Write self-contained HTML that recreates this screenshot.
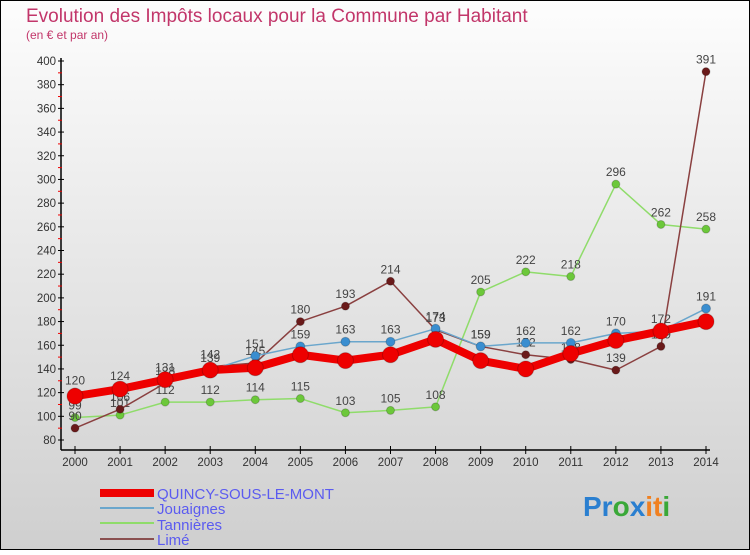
<!DOCTYPE html>
<html><head><meta charset="utf-8"><style>
body{margin:0;width:750px;height:550px;overflow:hidden;font-family:"Liberation Sans",sans-serif}
</style></head><body>
<svg id="chart" width="750" height="550" xmlns="http://www.w3.org/2000/svg">
<defs><linearGradient id="bg" x1="0" y1="0" x2="0" y2="1"><stop offset="0" stop-color="#fdfdfd"/><stop offset="1" stop-color="#cfcfcf"/></linearGradient></defs>
<rect x="0" y="0" width="750" height="550" fill="url(#bg)" stroke="#000" stroke-width="2"/>
<text x="26" y="22" font-size="19" fill="#c2366a">Evolution des Impôts locaux pour la Commune par Habitant</text>
<text x="26" y="39" font-size="12" fill="#c2366a">(en € et par an)</text>
<g id="axes"></g><g id="series"></g>
<g font-size="15" fill="#5b5bf0">
<rect x="100" y="489" width="54" height="8" fill="#ee0000"/>
<text x="157" y="499">QUINCY-SOUS-LE-MONT</text>
<rect x="100" y="507" width="54" height="2" fill="#6aa6cc"/>
<text x="157" y="514">Jouaignes</text>
<rect x="100" y="522" width="54" height="2" fill="#8fdc6a"/>
<text x="157" y="530">Tannières</text>
<rect x="100" y="538" width="54" height="2" fill="#8a5050"/>
<text x="157" y="545">Limé</text>
</g>
<text x="583" y="516" font-size="28" font-weight="bold"><tspan fill="#2a7fd0">Pr</tspan><tspan fill="#3aa838">o</tspan><tspan fill="#2a7fd0">x</tspan><tspan fill="#f08020">it</tspan><tspan fill="#3aa838">i</tspan></text>
</svg>
<script>
const years=[2000,2001,2002,2003,2004,2005,2006,2007,2008,2009,2010,2011,2012,2013,2014];
const quincy=[117,123,131,139,141,152,147,152,165,147,140,153,164,172,180];
const jouaignes=[120,124,131,139,151,159,163,163,174,159,162,162,170,172,191];
const tannieres=[99,101,112,112,114,115,103,105,108,205,222,218,296,262,258];
const lime=[90,106,128,142,145,180,193,214,173,159,152,148,139,159,391];
const yTicks=[80,100,120,140,160,180,200,220,240,260,280,300,320,340,360,380,400];
const NS="http://www.w3.org/2000/svg";
const X0=75,X1=706,Y0=440,Y1=61,YMIN=80,YMAX=400;
function xs(i){return X0+(X1-X0)*i/(years.length-1);}
function ys(v){return Y0-(v-YMIN)*(Y0-Y1)/(YMAX-YMIN);}
function mk(t,a,p){const e=document.createElementNS(NS,t);for(const k in a)e.setAttribute(k,a[k]);p.appendChild(e);return e;}
const ax=document.getElementById('axes');
const ya=mk('line',{x1:61,y1:58,x2:61,y2:450,stroke:'#000','stroke-width':1.5},ax);


const xa=mk('line',{x1:61,y1:450,x2:710,y2:450,stroke:'#000','stroke-width':1.5},ax);


yTicks.forEach(v=>{const y=ys(v);
 mk('line',{x1:58,y1:y,x2:64,y2:y,stroke:'#000'},ax);
 if(v<YMAX) mk('line',{x1:58,y1:ys(v+10),x2:62,y2:ys(v+10),stroke:'#e00'},ax);
 const t=mk('text',{x:56,y:y+4,'font-size':11.5,'text-anchor':'end',fill:'#333'},ax);t.textContent=v;
 
 });
years.forEach((yr,i)=>{const x=xs(i);
 mk('line',{x1:x,y1:446,x2:x,y2:454,stroke:'#000'},ax);
 const t=mk('text',{x:x,y:466,'font-size':11.5,'text-anchor':'middle',fill:'#333'},ax);t.textContent=yr;
 
 });
const sg=document.getElementById('series');
function draw(name,vals,col,w,r,pfill,labels){
 const g=mk('g',{},sg);
 
 
 const ln=mk('polyline',{points:vals.map((v,i)=>xs(i)+','+ys(v)).join(' '),fill:'none',stroke:col,'stroke-width':w,'stroke-linejoin':'round'},g);
 
 
 vals.forEach((v,i)=>{const c=mk('circle',{cx:xs(i),cy:ys(v),r:r,fill:pfill,stroke:'rgba(0,0,0,0.2)'},g);
  
  
  if(labels){const t=mk('text',{x:xs(i),y:ys(v)-8,'font-size':12,'text-anchor':'middle',fill:'#444'},g);t.textContent=v;
  
  }});
}
draw('tannieres',tannieres,'#8fdc6a',1.5,4,'#6cc83a',true);
draw('lime',lime,'#8a4040',1.5,4,'#6a1a1a',true);
draw('jouaignes',jouaignes,'#6aa6cc',1.5,4.5,'#3a8ed0',true);
draw('quincy',quincy,'#ee0000',8,8,'#ee0000',false);
</script>
</body></html>
